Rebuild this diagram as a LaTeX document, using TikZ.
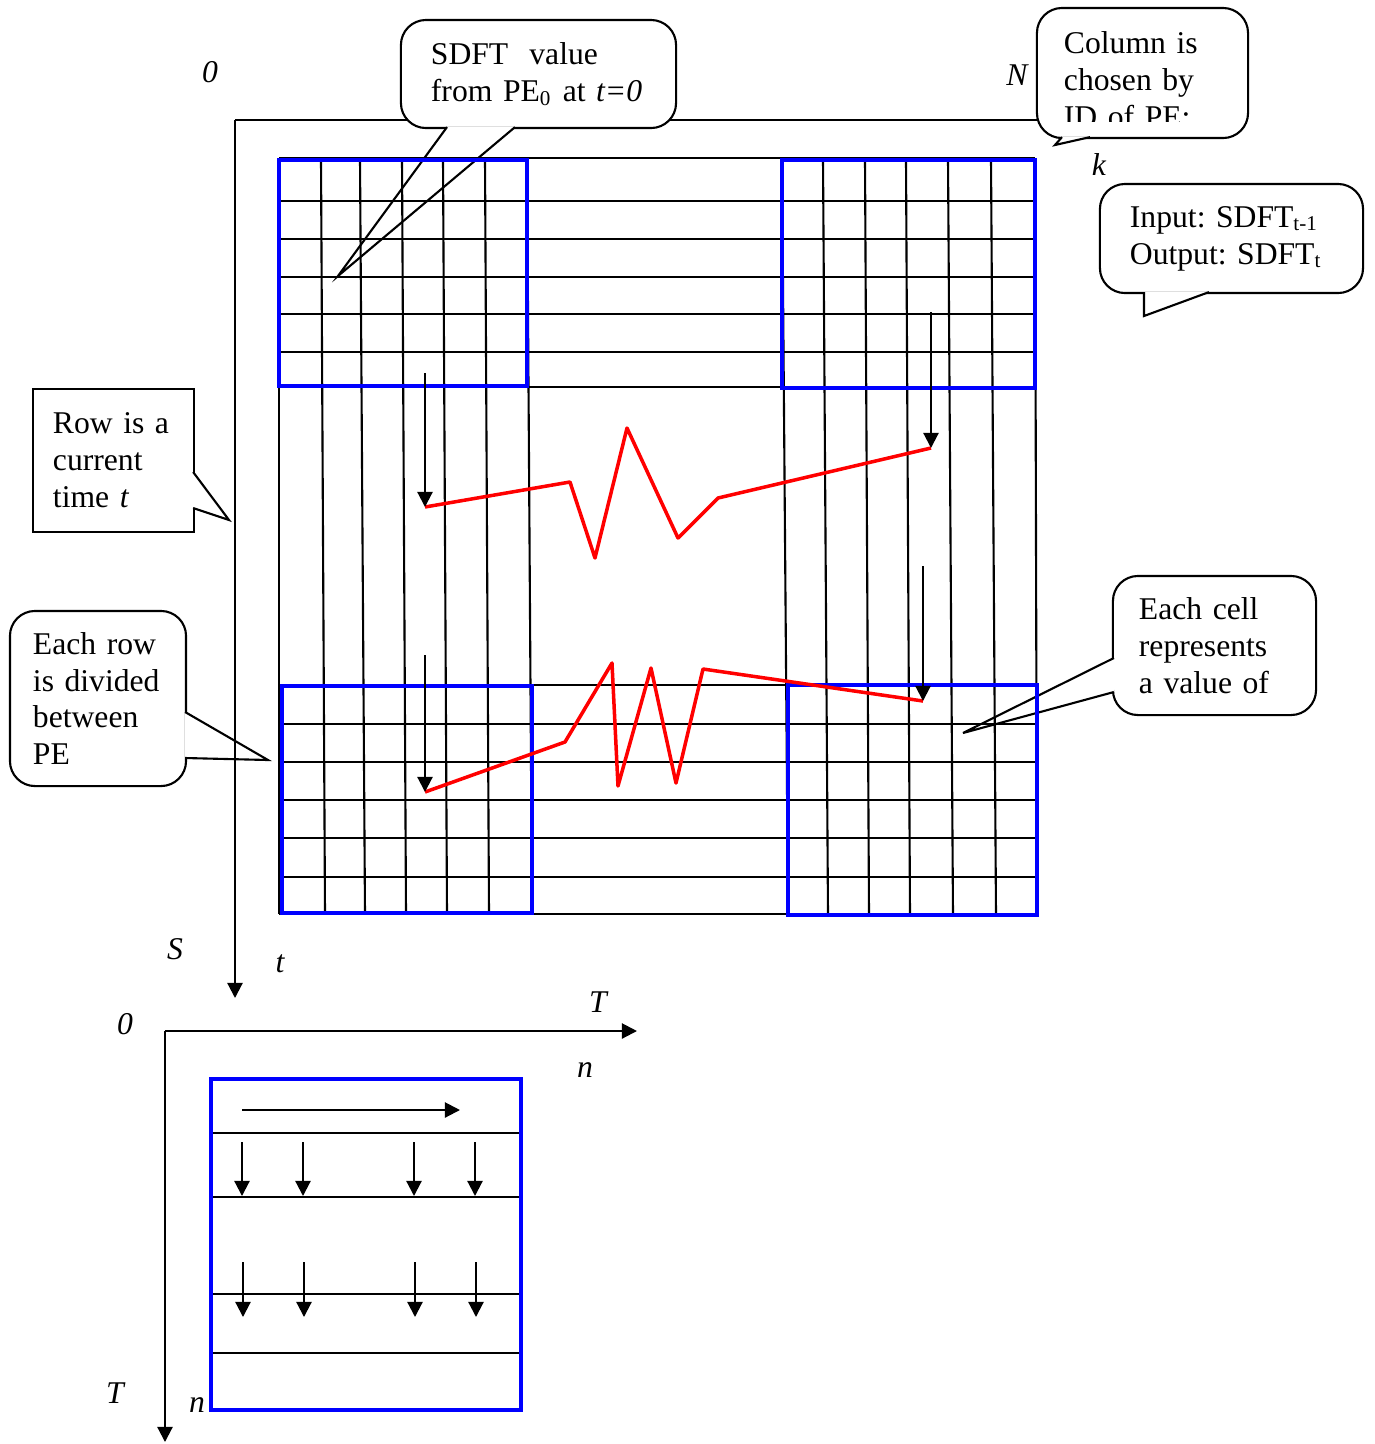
\documentclass[tikz,border=0pt]{standalone}
\usepackage{fontspec}
\setmainfont{Liberation Serif}
\usetikzlibrary{arrows.meta,calc}
\definecolor{PEBlue}{RGB}{0,0,255}
\definecolor{PathRed}{RGB}{255,0,0}
\frenchspacing

\begin{document}
\begin{tikzpicture}[
  x=0.01cm,y=-0.01cm,
  font=\fontsize{9pt}{10.5pt}\selectfont,
  gridline/.style={line width=0.6pt,draw=black},
  pebox/.style={line width=1.3pt,draw=PEBlue},
  zigzag/.style={line width=1pt,draw=PathRed,line join=round},
  flow/.style={-{Triangle[length=4.3pt,width=4.3pt]},line width=0.6pt},
  note/.style={draw,fill=white,line width=0.6pt,inner sep=0pt,align=left},
  roundnote/.style={note,rounded corners=0.25cm},
  wedge/.style={draw,fill=white,line width=0.6pt,line join=miter},
  lbl/.style={font=\fontsize{9pt}{10.5pt}\selectfont\itshape,inner sep=0pt}
]
  \useasboundingbox (0,0) rectangle (1375,1444);

  % axes of the upper matrix
  \coordinate (origin) at (235,120);
  \coordinate (kend) at (1037,120);
  \coordinate (send) at (235,998);
  \draw[gridline] (origin) -- (kend);

  % callouts
  \coordinate (sdfttip) at (338,276);
  \node[roundnote,minimum width=2.75cm,minimum height=1.08cm,text width=2.15cm] (sdftnote) at (538.5,74)
    {SDFT \ value\\from PE\textsubscript{0} at \textit{t=0}};
  \draw[wedge] ($(sdftnote.south)+(-91.5,-2)$) -- (sdfttip) -- ($(sdftnote.south)+(-23.5,-2)$);

  \coordinate (coltip) at (1055,145);
  \node[roundnote,minimum width=2.11cm,minimum height=1.30cm] (colnote) at (1142.5,73) {};
  \draw[wedge] ($(colnote.south)+(-80.5,-2)$) -- (coltip) -- ($(colnote.south)+(-52.5,-2)$);
  \begin{scope}
    \clip (colnote.north west) rectangle (colnote.east |- 0,121);
    \node[note,draw=none,fill=none,text width=1.57cm] (coltext) at ($(colnote)+(0,7)$)
      {Column is\\chosen by\\ID of PE:};
  \end{scope}

  \coordinate (iotip) at (1144,316);
  \node[roundnote,minimum width=2.63cm,minimum height=1.09cm,text width=2.03cm] (ionote) at (1231.5,238.5)
    {Input: SDFT\textsubscript{t-1}\\Output: SDFT\textsubscript{t}};
  \draw[wedge] ($(ionote.south)+(-87.5,-2)$) -- (iotip) -- ($(ionote.south)+(-22.5,-2)$);

  \coordinate (rowtip) at (229,520);
  \node[note,minimum width=1.61cm,minimum height=1.43cm,text width=1.21cm] (rownote) at (113.5,460.5)
    {Row is a\\current\\time \textit{t}};
  \draw[wedge] ($(rownote.east)+(-2,11.5)$) -- (rowtip) -- ($(rownote.east)+(-2,47.5)$);

  \coordinate (divtip) at (268,760);
  \node[roundnote,minimum width=1.76cm,minimum height=1.75cm,text width=1.30cm] (divnote) at (98,698.5)
    {Each row\\is divided\\between\\PE};
  \draw[wedge] ($(divnote.east)+(-2,13.5)$) -- (divtip) -- ($(divnote.east)+(-2,59.5)$);

  \coordinate (celltip) at (963,733);
  \node[roundnote,minimum width=2.03cm,minimum height=1.39cm,text width=1.51cm] (cellnote) at (1214.5,645.5)
    {Each cell\\represents\\a value of};
  \draw[wedge] ($(cellnote.west)+(2,12.5)$) -- (celltip) -- ($(cellnote.west)+(2,46.5)$);

  % matrix of SDFT values
  \foreach \y in {158,201,239,277,314,352,387}
    \draw[gridline] (279,\y) -- (1035,\y);
  \foreach \y in {685,724,762,800,838,877,914}
    \draw[gridline] (279,\y) -- (1037,\y);
  \foreach \a/\b in {279/279,321/325,360/365,402/406,443/447,485/489,527/532,
                     782/788,823/828,865/869,906/910,948/953,991/996,1035/1037}
    \draw[gridline] (\a,158) -- (\b,914);

  % blocks of the PEs
  \draw[pebox] (279,160) rectangle (527,386);
  \draw[pebox] (782,160) rectangle (1035,388);
  \draw[pebox] (282,686) rectangle (532,913);
  \draw[pebox] (788,685) rectangle (1037,915);

  % data exchange
  \coordinate (tipA) at (425,507);
  \coordinate (tipB) at (931,448);
  \coordinate (tipC) at (425,792);
  \coordinate (tipD) at (923,701);
  \draw[zigzag] (tipA) -- (570,482) -- (595,558) -- (627,428) -- (678,538) -- (718,498) -- (tipB);
  \draw[zigzag] (tipC) -- (565,742) -- (612,663) -- (618,786) -- (651,668) -- (676,783) -- (703,669) -- (tipD);
  \draw[flow] (425,373) -- (tipA);
  \draw[flow] (931,312) -- (tipB);
  \draw[flow] (425,655) -- (tipC);
  \draw[flow] (923,566) -- (tipD);

  \draw[flow] (origin) -- (send);

  % axis labels
  \node[lbl] (zeroK) at (210,72) {0};
  \node[lbl] (labN) at (1017,75) {N};
  \node[lbl] (labk) at (1099,165) {k};
  \node[lbl] (labS) at (175,949) {S};
  \node[lbl] (labt) at (280,964) {t};

  % one PE block in detail
  \coordinate (borig) at (165,1031);
  \coordinate (tend) at (637,1031);
  \coordinate (nend) at (165,1442);
  \draw[flow] (borig) -- (tend);
  \draw[flow] (borig) -- (nend);
  \node[lbl] (labT) at (598,1002) {T};
  \node[lbl] (zeroT) at (125,1024) {0};
  \node[lbl] (labn) at (585,1070) {n};
  \node[lbl] (labTb) at (115,1393) {T};
  \node[lbl] (labnb) at (197,1405) {n};

  \foreach \y in {1133,1197,1294,1353}
    \draw[gridline] (212,\y) -- (521,\y);
  \draw[flow] (242,1110) -- (460,1110);
  \foreach \x in {242,303,414,475} {
    \draw[flow] (\x,1142) -- (\x,1196);
    \draw[flow] (\x+1,1262) -- (\x+1,1317);
  }
  \draw[pebox] (211,1079) rectangle (521,1410);
\end{tikzpicture}
\end{document}
